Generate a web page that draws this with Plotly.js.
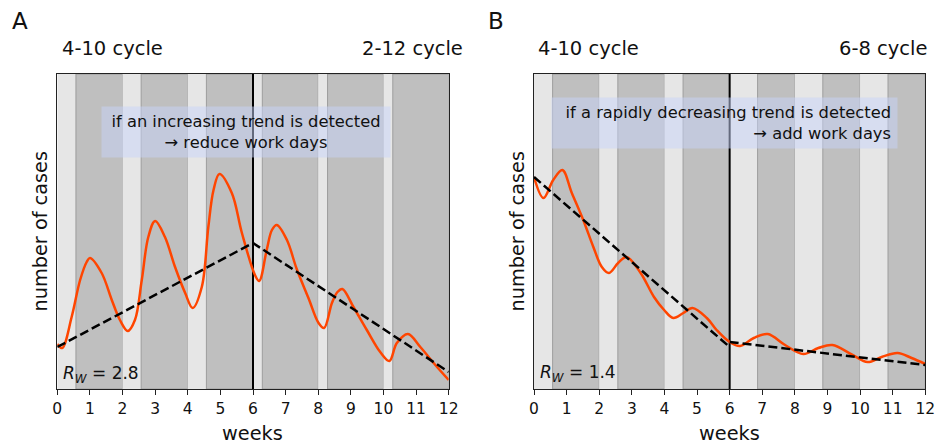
<!DOCTYPE html>
<html><head><meta charset="utf-8">
<script src="https://cdn.plot.ly/plotly-3.0.1.min.js"></script>
<style>html,body{margin:0;padding:0;background:#fff}#chart{width:936px;height:445px}</style>
</head><body><div id="chart"></div>
<script>
// ---- data ----
const weeksA = [0,0.15,0.44,0.70,0.90,1.00,1.36,1.67,1.92,2.16,2.38,2.59,2.79,3.00,3.30,3.61,3.92,4.15,4.43,4.63,4.79,4.97,5.35,5.66,6.06,6.19,6.42,6.58,6.73,7.04,7.34,7.70,8.01,8.18,8.42,8.59,8.74,9.08,9.49,9.90,10.18,10.41,10.75,11.13,11.59,12.00];
const casesA = [45,41,72,109,127,131,116,89,69,58,69,109,152,168,152,122,96,81,102,162,199,215,196,156,114,108,139,159,164,149,120,91,66,61,86,97,100,82,59,37,28,46,55,42,24,9];
const trendWeeksA = [0,6,12];
const trendA = [42,146,17];

const weeksB = [0,0.29,0.59,0.87,1.16,1.51,1.82,2.08,2.30,2.58,2.84,3.27,3.68,3.99,4.27,4.58,4.86,5.30,5.60,6.00,6.32,6.74,7.17,7.70,8.26,8.72,9.15,9.77,10.23,10.66,11.15,11.58,12.00];
const casesB = [212,191,209,219,196,169,142,122,116,126,132,116,92,79,71,76,81,71,59,47,43,51,55,44,35,41,44,34,27,32,36,31,25];
const trendWeeksB1 = [0,6];
const trendB1 = [212,42];
const trendWeeksB2 = [6,12];
const trendB2 = [47,24];

const tickWeeks = [0,1,2,3,4,5,6,7,8,9,10,11,12];
// [start week, end week, work days, lockdown days]
const scheduleA = [[0,6,4,10],[6,12,2,12]];
const scheduleB = [[0,6,4,10],[6,12,6,8]];
const cycleLabelsA = ['4-10 cycle','2-12 cycle'];
const cycleLabelsB = ['4-10 cycle','6-8 cycle'];
const switchWeek = 6;
const RwA = '2.8', RwB = '1.4';
const boxTextA = 'if an increasing trend is detected<br>→ reduce work days';
const boxTextB = 'if a rapidly decreasing trend is detected<br>→ add work days';

// ---- styles ----
const W = 936, H = 445;
const FONT = 'DejaVu Sans';
const TXT = '#111';
const LIGHT = '#e6e6e6', DARK = '#bfbfbf', EDGE = '#9c9c9c';
const ORANGE = '#ff4500';
const px = v => v / W, py = v => 1 - v / H;

function stripes(schedule, xr) {
  const yr = (xr === 'x' ? 'y' : 'y2') + ' domain';
  const s = [];
  schedule.forEach(([a, b, work, lock]) => {
    const period = (work + lock) / 7;
    const n = Math.round((b - a) / period);
    for (let i = 0; i < n; i++) {
      const t = a + i * period;
      s.push({type:'rect', xref:xr, yref:yr, x0:t, x1:t+work/7, y0:0, y1:1,
        fillcolor:LIGHT, line:{width:0}, layer:'below'});
      s.push({type:'rect', xref:xr, yref:yr, x0:t+work/7, x1:t+period, y0:0, y1:1,
        fillcolor:DARK, line:{width:1, color:EDGE}, layer:'below'});
    }
  });
  s.push({type:'line', xref:xr, yref:yr, x0:switchWeek, x1:switchWeek, y0:0, y1:1,
    line:{color:'#000', width:2}, layer:'below'});
  return s;
}

const traces = [
  {x:weeksA, y:casesA, xaxis:'x', yaxis:'y', mode:'lines', line:{color:ORANGE, width:2.5, shape:'spline', smoothing:1}, hoverinfo:'skip'},
  {x:trendWeeksA, y:trendA, xaxis:'x', yaxis:'y', mode:'lines', line:{color:'#000', width:2.5, dash:'9px,4px'}, hoverinfo:'skip'},
  {x:weeksB, y:casesB, xaxis:'x2', yaxis:'y2', mode:'lines', line:{color:ORANGE, width:2.5, shape:'spline', smoothing:1}, hoverinfo:'skip'},
  {x:trendWeeksB1, y:trendB1, xaxis:'x2', yaxis:'y2', mode:'lines', line:{color:'#000', width:2.5, dash:'9px,4px'}, hoverinfo:'skip'},
  {x:trendWeeksB2, y:trendB2, xaxis:'x2', yaxis:'y2', mode:'lines', line:{color:'#000', width:2.5, dash:'9px,4px'}, hoverinfo:'skip'}
];

const xax = dom => ({domain:dom, range:[0,12], tickvals:tickWeeks, ticktext:tickWeeks.map(String),
  ticks:'outside', ticklen:5, tickwidth:1, tickcolor:'#222', showgrid:false, zeroline:false,
  showline:true, mirror:true, linecolor:'#222', linewidth:1,
  tickfont:{family:FONT, size:15.5, color:TXT}});
const yax = anchor => ({domain:[py(389), py(74)], range:[0,315], anchor:anchor, showticklabels:false, ticks:'',
  showgrid:false, zeroline:false, showline:true, mirror:true, linecolor:'#222', linewidth:1});

function ann(text, x, y, size, xanchor, extra) {
  return Object.assign({text:text, xref:'paper', yref:'paper', x:px(x), y:py(y), xanchor:xanchor, yanchor:'middle',
    showarrow:false, font:{family:FONT, size:size, color:TXT}}, extra || {});
}

const annotations = [
  ann('A', 10, 21, 23, 'left'),
  ann('B', 486, 21, 23, 'left'),
  ann(cycleLabelsA[0], 60, 49, 19.5, 'left'),
  ann(cycleLabelsA[1], 465, 49, 19.5, 'right'),
  ann(cycleLabelsB[0], 536, 49, 19.5, 'left'),
  ann(cycleLabelsB[1], 929, 49, 19.5, 'right'),
  ann(boxTextA, 245.8, 131.7, 16.3, 'center', {align:'center', bgcolor:'rgba(200,212,250,0.5)', borderpad:6, width:276, height:38}),
  ann(boxTextB, 724.2, 122.7, 16.3, 'center', {align:'right', bgcolor:'rgba(200,212,250,0.5)', borderpad:6, width:333, height:38}),
  ann('<i>R</i><sub><i>W</i></sub> = ' + RwA, 61, 374, 17, 'left'),
  ann('<i>R</i><sub><i>W</i></sub> = ' + RwB, 538, 373, 17, 'left'),
  ann('weeks', 253, 433, 19.3, 'center'),
  ann('weeks', 729.7, 433, 19.3, 'center'),
  ann('number of cases', 40, 231.5, 19.3, 'center', {textangle:-90}),
  ann('number of cases', 517, 231.5, 19.3, 'center', {textangle:-90})
];

const layout = {
  width:W, height:H, margin:{l:0, r:0, t:0, b:0}, showlegend:false,
  paper_bgcolor:'#fff', plot_bgcolor:'#fff',
  xaxis:xax([px(57.3), px(448.7)]), yaxis:yax('x'),
  xaxis2:xax([px(534), px(925.3)]), yaxis2:yax('x2'),
  shapes: stripes(scheduleA, 'x').concat(stripes(scheduleB, 'x2')),
  annotations: annotations
};
layout.xaxis2.anchor = 'y2';

Plotly.newPlot('chart', traces, layout, {displayModeBar:false, staticPlot:true});
</script></body></html>
